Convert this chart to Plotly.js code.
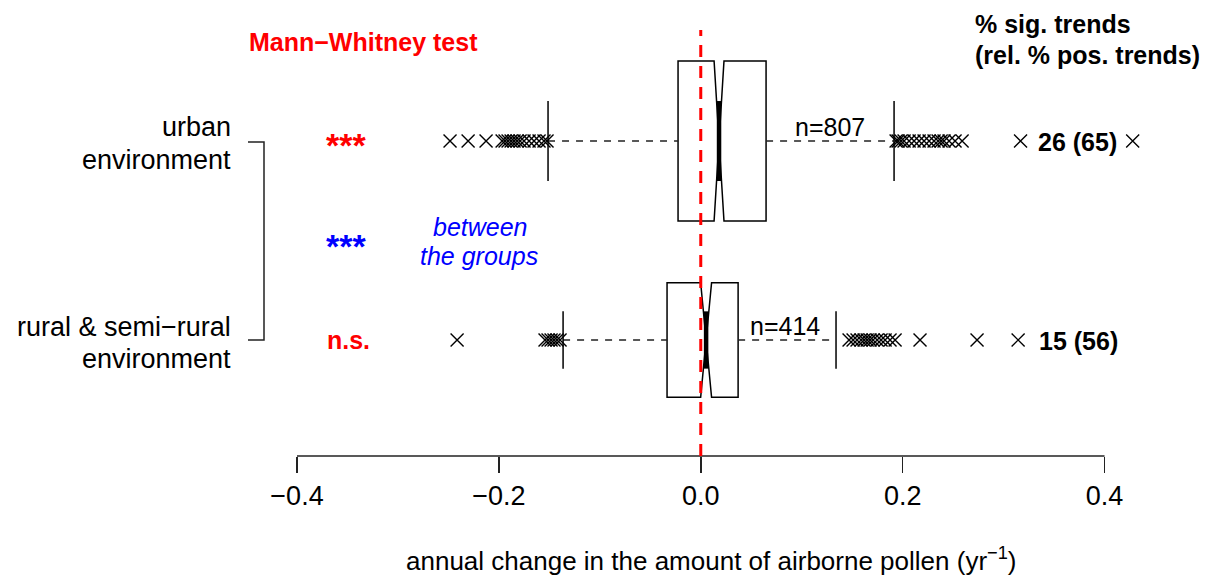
<!DOCTYPE html>
<html>
<head>
<meta charset="utf-8">
<script src="https://cdn.plot.ly/plotly-3.0.1.min.js"></script>
<style>html,body{margin:0;padding:0;background:#fff;}#chart{width:1207px;height:578px;}</style>
</head>
<body>
<div id="chart"></div>
<script>
// ---- data ----
const groups = ['urban environment', 'rural & semi−rural environment'];
const groupPos = [2, 1];
const nObs = [807, 414];
const q1 = [-0.0225, -0.0334];
const median = [0.0181, 0.0053];
const q3 = [0.0647, 0.0370];
const whiskerLow = [-0.1513, -0.1364];
const whiskerHigh = [0.1915, 0.1340];
const notchHalf = [0.0049, 0.0054];
const outliersUrban = [-0.2484, -0.2305, -0.2127, -0.1968, -0.1939, -0.1909, -0.1879, -0.1850, -0.1820,
  -0.1790, -0.1751, -0.1701, -0.1652, -0.1602, -0.1553, -0.1523,
  0.1935, 0.1955, 0.1984, 0.2014, 0.2064, 0.2113, 0.2163, 0.2212, 0.2262, 0.2311, 0.2351, 0.2381,
  0.2410, 0.2460, 0.2519, 0.2589, 0.3168, 0.4279];
const outliersRural = [-0.2414, -0.1543, -0.1513, -0.1483, -0.1454, -0.1424, -0.1394,
  0.1469, 0.1509, 0.1548, 0.1588, 0.1618, 0.1648, 0.1677, 0.1707, 0.1747, 0.1786, 0.1826, 0.1875,
  0.1925, 0.2172, 0.2737, 0.3144];
const pctSig = [26, 15];
const pctPos = [65, 56];
const tickValues = [-0.4, -0.2, 0.0, 0.2, 0.4];
const tickLabels = ['−0.4', '−0.2', '0.0', '0.2', '0.4'];
const withinTest = ['***', 'n.s.'];
const betweenTest = '***';

// ---- layout geometry ----
const M = {l: 297, r: 52, t: 30, b: 122};
const W = 1207 - M.l - M.r, H = 578 - M.t - M.b;
const P = (px, py) => ({x: (px - M.l) / W, y: 1 - (py - M.t) / H});
const FONT = 'Liberation Sans, Arial, sans-serif';
const baseWidth = 0.804;
const boxW = nObs.map(n => baseWidth * Math.sqrt(n / nObs[0]));
const outliers = [outliersUrban, outliersRural];

const traces = [];
groups.forEach((g, i) => {
  const pos = groupPos[i], w = boxW[i];
  traces.push({
    type: 'box', orientation: 'h', y: [pos], name: g,
    q1: [q1[i]], median: [median[i]], q3: [q3[i]],
    lowerfence: [q1[i]], upperfence: [q3[i]],
    notched: true, notchspan: [notchHalf[i]], notchwidth: 0.5,
    width: w, fillcolor: 'white', line: {color: 'black', width: 1.5},
    whiskerwidth: 0, boxpoints: false, hoverinfo: 'skip', showlegend: false
  });
  // dashed whiskers
  traces.push({
    type: 'scatter', mode: 'lines',
    x: [whiskerLow[i], q1[i], null, q3[i], whiskerHigh[i]],
    y: [pos, pos, null, pos, pos],
    line: {color: '#222', width: 1.5, dash: '7px,7px'}, hoverinfo: 'skip', showlegend: false
  });
  // staples
  traces.push({
    type: 'scatter', mode: 'lines',
    x: [whiskerLow[i], whiskerLow[i], null, whiskerHigh[i], whiskerHigh[i]],
    y: [pos - w / 4, pos + w / 4, null, pos - w / 4, pos + w / 4],
    line: {color: 'black', width: 1.5}, hoverinfo: 'skip', showlegend: false
  });
  // thick median
  traces.push({
    type: 'scatter', mode: 'lines',
    x: [median[i], median[i]], y: [pos - w / 4, pos + w / 4],
    line: {color: 'black', width: 4.5}, hoverinfo: 'skip', showlegend: false
  });
  // outliers
  traces.push({
    type: 'scatter', mode: 'markers',
    x: outliers[i], y: outliers[i].map(() => pos),
    marker: {symbol: 'x-thin', size: 13, line: {width: 1.4, color: 'black'}},
    hoverinfo: 'skip', showlegend: false
  });
});

function ann(text, px, py, opts) {
  const p = P(px, py);
  return Object.assign({
    xref: 'paper', yref: 'paper', x: p.x, y: p.y, text: text, showarrow: false,
    xanchor: 'center', yanchor: 'middle',
    font: {family: FONT, size: 26, color: 'black'}
  }, opts || {});
}
const annotations = [
  ann('urban', 233, 127, {xanchor: 'right', font: {family: FONT, size: 27, color: 'black'}}),
  ann('environment', 233, 160, {xanchor: 'right', font: {family: FONT, size: 27, color: 'black'}}),
  ann('rural &amp; semi−rural', 233, 327, {xanchor: 'right', font: {family: FONT, size: 27, color: 'black'}}),
  ann('environment', 233, 359, {xanchor: 'right', font: {family: FONT, size: 27, color: 'black'}}),
  ann('<b>Mann−Whitney test</b>', 363, 42, {font: {family: FONT, size: 25, color: '#ff0000'}}),
  ann('<b>' + withinTest[0] + '</b>', 346, 145, {font: {family: FONT, size: 34, color: '#ff0000'}}),
  ann('<b>' + betweenTest + '</b>', 346, 246, {font: {family: FONT, size: 34, color: '#0000ff'}}),
  ann('<b>' + withinTest[1] + '</b>', 348, 340, {font: {family: FONT, size: 25, color: '#ff0000'}}),
  ann('<i>between</i>', 480, 227, {font: {family: FONT, size: 25, color: '#0000ff'}}),
  ann('<i>the groups</i>', 479, 256, {font: {family: FONT, size: 25, color: '#0000ff'}}),
  ann('n=' + nObs[0], 830, 127, {font: {family: FONT, size: 25, color: 'black'}}),
  ann('n=' + nObs[1], 785, 326, {font: {family: FONT, size: 25, color: 'black'}}),
  ann('<b>% sig. trends</b>', 973, 24, {xanchor: 'left', font: {family: FONT, size: 25, color: 'black'}}),
  ann('<b>(rel. % pos. trends)</b>', 973, 55, {xanchor: 'left', font: {family: FONT, size: 25, color: 'black'}}),
  ann('<b>' + pctSig[0] + ' (' + pctPos[0] + ')</b>', 1036, 142, {xanchor: 'left', font: {family: FONT, size: 25, color: 'black'}}),
  ann('<b>' + pctSig[1] + ' (' + pctPos[1] + ')</b>', 1037, 341, {xanchor: 'left', font: {family: FONT, size: 25, color: 'black'}}),
  ann('annual change in the amount of airborne pollen (yr<sup>−1</sup>)', 711, 559, {font: {family: FONT, size: 26, color: 'black'}})
];

const b1 = P(248, 142), b2 = P(264, 142), b3 = P(264, 340), b4 = P(248, 340);
const shapes = [
  {type: 'line', xref: 'x', yref: 'paper', x0: tickValues[0], x1: tickValues[tickValues.length - 1], y0: 0, y1: 0,
   line: {color: '#222', width: 1.5}},
  {type: 'line', xref: 'x', yref: 'paper', x0: 0, x1: 0, y0: 0, y1: 1,
   line: {color: '#ff0000', width: 3, dash: '12px,9px'}},
  {type: 'path', xref: 'paper', yref: 'paper',
   path: `M ${b1.x} ${b1.y} L ${b2.x} ${b2.y} L ${b3.x} ${b3.y} L ${b4.x} ${b4.y}`,
   line: {color: '#222', width: 1.5}}
];

const layout = {
  width: 1207, height: 578,
  margin: M,
  paper_bgcolor: 'white', plot_bgcolor: 'white',
  showlegend: false,
  xaxis: {
    range: [-0.4, 0.45], showgrid: false, zeroline: false, showline: false,
    tickvals: tickValues, ticktext: tickLabels, ticks: 'outside', ticklen: 16,
    tickwidth: 1.5, tickcolor: '#222',
    tickfont: {family: FONT, size: 27, color: 'black'}, fixedrange: true
  },
  yaxis: {range: [0.417, 2.558], visible: false, fixedrange: true},
  annotations: annotations,
  shapes: shapes
};

Plotly.newPlot('chart', traces, layout, {staticPlot: true, displayModeBar: false});
</script>
</body>
</html>
